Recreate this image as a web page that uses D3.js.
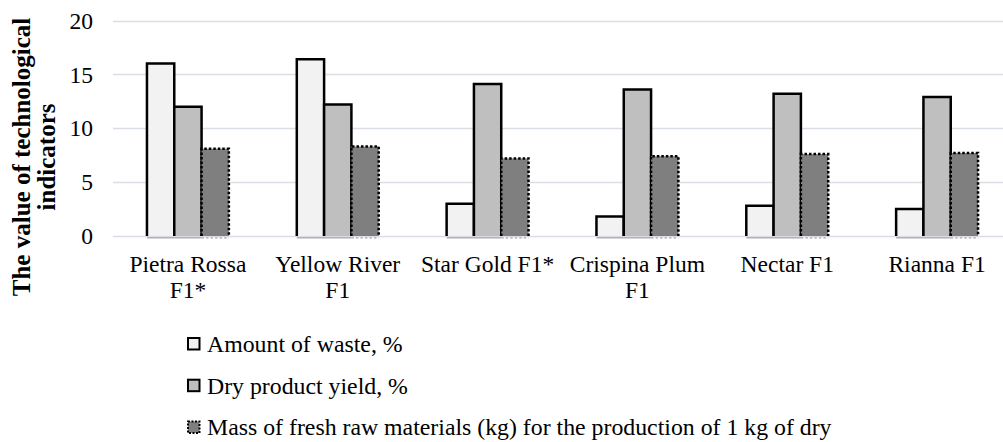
<!DOCTYPE html>
<html>
<head>
<meta charset="utf-8">
<script src="https://cdn.jsdelivr.net/npm/d3@7"></script>
<style>
  body { margin: 0; background: #fff; }
  text { font-family: "Liberation Serif", "Times New Roman", serif; fill: #000; }
</style>
</head>
<body>
<div id="chart"></div>
<script>
// data
var categories = ["Pietra Rossa F1*", "Yellow River F1", "Star Gold F1*", "Crispina Plum F1", "Nectar F1", "Rianna F1"];
var categoryLines = [["Pietra Rossa", "F1*"], ["Yellow River", "F1"], ["Star Gold F1*"], ["Crispina Plum", "F1"], ["Nectar F1"], ["Rianna F1"]];
var seriesNames = ["Amount of waste, %", "Dry product yield, %", "Mass of fresh raw materials (kg) for the production of 1 kg of dry"];
var waste = [16.0, 16.4, 3.0, 1.8, 2.8, 2.5];
var yieldDry = [12.0, 12.2, 14.1, 13.6, 13.2, 12.9];
var rawMass = [8.1, 8.3, 7.2, 7.4, 7.6, 7.7];
var yTicks = [0, 5, 10, 15, 20];

var seriesFill = ["#f2f2f2", "#bfbfbf", "#7f7f7f"];
var seriesDash = [null, null, "2.5,2"];

var width = 1003;
var height = 442;
var fontSize = 23.5;
var plot = {left: 113, right: 1012, top: 20.5, bottom: 236};

var svg = d3.select("#chart")
            .append("svg")
            .attr("width", width)
            .attr("height", height);

// scales
var xScale = d3.scaleBand()
               .domain(categories)
               .range([plot.left, plot.right])
               .paddingInner(0.4533)
               .paddingOuter(0.4533 / 2);
var xSub = d3.scaleBand()
             .domain(d3.range(seriesNames.length))
             .range([0, xScale.bandwidth()]);
var yScale = d3.scaleLinear()
               .domain([0, 20])
               .range([plot.bottom, plot.top]);

// gridlines
svg.append("g")
   .selectAll("line")
   .data(yTicks)
   .enter().append("line")
   .attr("x1", plot.left)
   .attr("x2", plot.right)
   .attr("y1", function(d) { return Math.round(yScale(d)) + 0.5; })
   .attr("y2", function(d) { return Math.round(yScale(d)) + 0.5; })
   .attr("stroke", "#d9dde4")
   .attr("stroke-width", 1.3);

// y tick labels
svg.append("g")
   .selectAll("text")
   .data(yTicks)
   .enter().append("text")
   .attr("x", 93)
   .attr("y", function(d) { return yScale(d); })
   .attr("dy", "0.35em")
   .attr("text-anchor", "end")
   .attr("font-size", fontSize)
   .text(function(d) { return d; });

// bars
var rows = categories.map(function(c, i) {
  return {cat: c, values: [waste[i], yieldDry[i], rawMass[i]]};
});
var groups = svg.append("g")
                .selectAll("g")
                .data(rows)
                .enter().append("g")
                .attr("transform", function(d) { return "translate(" + xScale(d.cat) + ",0)"; });

var bars = groups.selectAll("g.bar")
                 .data(function(d) { return d.values.map(function(v, k) { return {k: k, v: v}; }); })
                 .enter().append("g")
                 .attr("class", "bar");

bars.append("rect")
    .attr("x", function(d) { return xSub(d.k); })
    .attr("width", xSub.bandwidth())
    .attr("y", function(d) { return yScale(d.v); })
    .attr("height", function(d) { return yScale(0) - yScale(d.v); })
    .attr("fill", function(d) { return seriesFill[d.k]; });

// outline on top and sides only
bars.append("path")
    .attr("d", function(d) {
      var x0 = xSub(d.k), x1 = x0 + xSub.bandwidth();
      var y0 = yScale(0), y1 = yScale(d.v);
      return "M" + x0 + "," + y0 + "V" + y1 + "H" + x1 + "V" + y0;
    })
    .attr("fill", "none")
    .attr("stroke", "#000")
    .attr("stroke-width", 2.5)
    .attr("stroke-dasharray", function(d) { return seriesDash[d.k]; });

// faint bottom edge under each bar
bars.append("line")
    .attr("x1", function(d) { return xSub(d.k); })
    .attr("x2", function(d) { return xSub(d.k) + xSub.bandwidth(); })
    .attr("y1", yScale(0) + 1.8)
    .attr("y2", yScale(0) + 1.8)
    .attr("stroke", "#a6a6a6")
    .attr("stroke-width", 1.3)
    .attr("stroke-dasharray", function(d) { return seriesDash[d.k]; });

// category labels
var catLabels = svg.append("g")
                   .selectAll("text")
                   .data(categories)
                   .enter().append("text")
                   .attr("x", function(d) { return xScale(d) + xScale.bandwidth() / 2; })
                   .attr("y", 272)
                   .attr("text-anchor", "middle")
                   .attr("font-size", fontSize);
catLabels.selectAll("tspan")
         .data(function(d, i) { return categoryLines[i]; })
         .enter().append("tspan")
         .attr("x", function() { return this.parentNode.getAttribute("x"); })
         .attr("dy", function(d, i) { return i === 0 ? 0 : 26; })
         .text(function(d) { return d; });

// y axis title
var yTitle = svg.append("text")
                .attr("transform", "translate(30,157) rotate(-90)")
                .attr("text-anchor", "middle")
                .attr("font-size", 25)
                .attr("font-weight", "bold");
yTitle.append("tspan").attr("x", 0).attr("dy", 0).text("The value of technological");
yTitle.append("tspan").attr("x", 0).attr("dy", 25).text("indicators");

// legend
var legend = svg.append("g")
                .selectAll("g")
                .data(seriesNames)
                .enter().append("g")
                .attr("transform", function(d, i) { return "translate(187," + (352 + i * 41.7) + ")"; });
legend.append("rect")
      .attr("x", 1)
      .attr("y", -14)
      .attr("width", 11.5)
      .attr("height", 11.5)
      .attr("fill", function(d, i) { return seriesFill[i]; })
      .attr("stroke", "#000")
      .attr("stroke-width", 2)
      .attr("stroke-dasharray", function(d, i) { return seriesDash[i] ? "2,1.5" : null; });
legend.append("text")
      .attr("x", 20)
      .attr("y", 0)
      .attr("font-size", 23.8)
      .text(function(d) { return d; });
</script>
</body>
</html>
